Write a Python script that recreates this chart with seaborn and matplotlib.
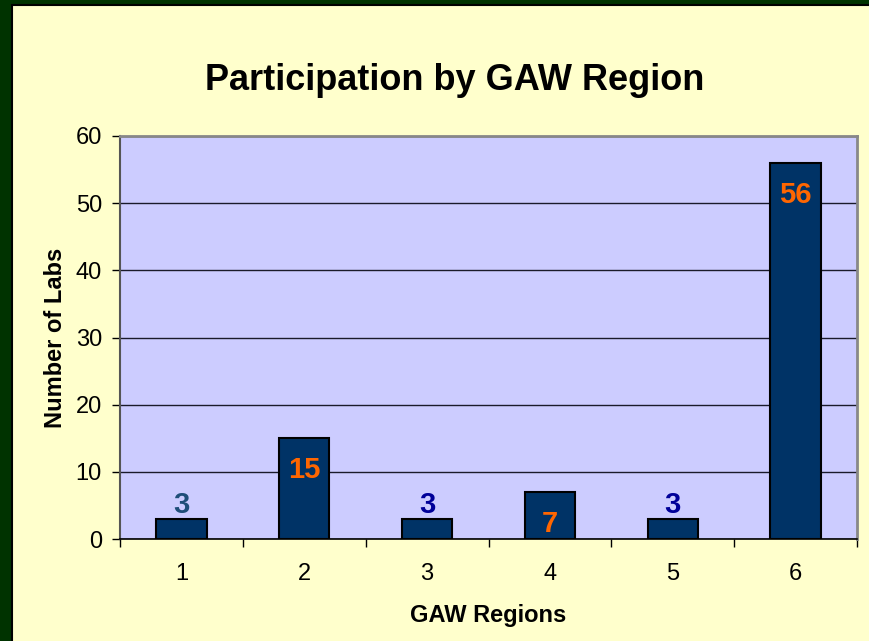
import matplotlib
matplotlib.use("Agg")
import matplotlib.pyplot as plt
from matplotlib.patches import Rectangle
from matplotlib.ticker import FixedLocator
import seaborn as sns
import pandas as pd

regions = ["1", "2", "3", "4", "5", "6"]
labs = [3, 15, 3, 7, 3, 56]
label_colors = ["#1F4E79", "#FF6600", "#000099", "#FF6600", "#000099", "#FF6600"]
yticks = [0, 10, 20, 30, 40, 50, 60]

sns.set_theme(style="white")
plt.rcParams['font.family'] = ['Liberation Sans', 'DejaVu Sans']

fig = plt.figure(figsize=(8.69, 6.41), dpi=100)
fig.patch.set_facecolor("#003300")
W, H = 869, 641
# yellow panel with thin black edge
fig.patches.append(Rectangle((12 / W, -0.01), 1.0, 1 - 5 / H + 0.01, transform=fig.transFigure,
                             facecolor="#FFFFCC", edgecolor="#000000", linewidth=1.5, zorder=-5))

ax = fig.add_axes([120 / W, 1 - 539 / H, (857 - 120) / W, (539 - 136) / H])
ax.set_zorder(2)
ax.set_facecolor("#CCCCFF")

df = pd.DataFrame({"region": regions, "labs": labs})
sns.barplot(data=df, x="region", y="labs", ax=ax, color="#003366", width=0.41,
            edgecolor="black", linewidth=1.5, saturation=1, zorder=3)

ax.set_ylim(0, 60)
ax.set_xlim(-0.5, len(regions) - 0.5)
ax.set_yticks(yticks)
ax.yaxis.grid(True, color="#1a1a2a", linewidth=1.0)
ax.set_axisbelow(True)
for s in ["top", "right"]:
    ax.spines[s].set_color("#888888")
    ax.spines[s].set_linewidth(2)
ax.spines["left"].set_color("#555555")
ax.spines["left"].set_linewidth(1.5)
ax.spines["bottom"].set_color("#000000")
ax.spines["bottom"].set_linewidth(1.2)

ax.tick_params(axis="y", which="major", left=True, length=6, width=1, color="black",
               labelsize=17, pad=7, labelcolor="black")
ax.tick_params(axis="x", which="major", bottom=False, length=0, labelsize=17, pad=17,
               labelcolor="black")
ax.xaxis.set_minor_locator(FixedLocator([i - 0.5 for i in range(len(regions) + 1)]))
ax.tick_params(axis="x", which="minor", bottom=True, length=6, width=1, color="black")

ax.set_xlabel("GAW Regions", fontsize=17, fontweight="bold", labelpad=14, color="black")
ax.set_ylabel("Number of Labs", fontsize=17, fontweight="bold", labelpad=6, color="black")

for i, (v, c) in enumerate(zip(labs, label_colors)):
    if v > 5:
        ax.annotate(str(v), (i, v), xytext=(0, -13), textcoords="offset points",
                    ha="center", va="top", fontsize=21, fontweight="bold", color=c, zorder=5)
    else:
        ax.annotate(str(v), (i, v), xytext=(0, 0), textcoords="offset points",
                    ha="center", va="bottom", fontsize=21, fontweight="bold", color=c, zorder=5)

fig.text(455 / W, 1 - 80 / H, "Participation by GAW Region", ha="center", va="center",
         fontsize=26, fontweight="bold", color="black")

fig.savefig("out.png", dpi=100, facecolor=fig.get_facecolor())
